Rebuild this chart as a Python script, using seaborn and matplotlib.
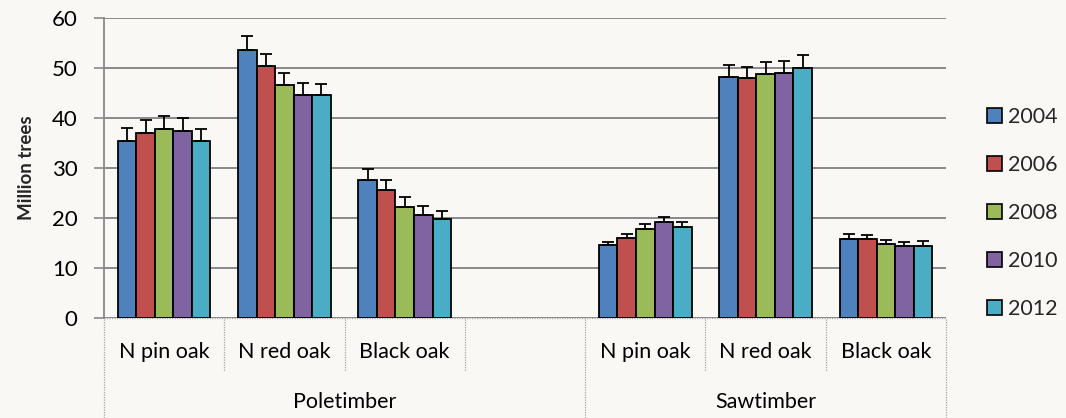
import numpy as np
import pandas as pd
import matplotlib
matplotlib.use("Agg")
import matplotlib.pyplot as plt
import matplotlib.transforms as mtransforms
import seaborn as sns

# categories on the x axis (the empty slot separates the two size classes)
species = ["N pin oak", "N red oak", "Black oak"]
size_classes = ["Poletimber", "Sawtimber"]
years = ["2004", "2006", "2008", "2010", "2012"]

# million trees, one list per year: pole pin, pole red, pole black, saw pin, saw red, saw black
vals_2004 = [35.4, 53.7, 27.7, 14.6, 48.3, 15.9]
vals_2006 = [37.0, 50.4, 25.7, 16.1, 48.0, 15.8]
vals_2008 = [37.8, 46.7, 22.2, 17.9, 48.8, 14.9]
vals_2010 = [37.5, 44.7, 20.6, 19.2, 49.0, 14.5]
vals_2012 = [35.5, 44.6, 19.8, 18.2, 50.0, 14.5]

# upper error (sampling error), same order
err_2004 = [2.7, 2.75, 2.1, 0.7, 2.3, 0.9]
err_2006 = [2.7, 2.5, 2.0, 0.7, 2.3, 0.9]
err_2008 = [2.7, 2.3, 2.0, 0.9, 2.4, 0.8]
err_2010 = [2.5, 2.2, 1.9, 1.0, 2.4, 0.8]
err_2012 = [2.4, 2.2, 1.7, 1.0, 2.6, 0.9]

colors = ["#4F81BD", "#C0504D", "#9BBB59", "#8064A2", "#4BACC6"]
bg = "#F9F8F5"

# build long table
keys = [f"{s}|{sp}" for s in size_classes for sp in species]
order = keys[:3] + ["gap"] + keys[3:]
rows = []
for yr, v, e in zip(years, [vals_2004, vals_2006, vals_2008, vals_2010, vals_2012],
                    [err_2004, err_2006, err_2008, err_2010, err_2012]):
    for k, vv, ee in zip(keys, v, e):
        rows.append({"cat": k, "year": yr, "value": vv, "err": ee})
df = pd.DataFrame(rows)

sns.set_theme(style="white")
plt.rcParams["font.family"] = ["Lato", "DejaVu Sans"]

fig = plt.figure(figsize=(10.66, 4.18), dpi=100, facecolor=bg)
ax = fig.add_axes([104 / 1066, 1 - 318 / 418, 842 / 1066, 300 / 418])
ax.set_facecolor(bg)

sns.barplot(data=df, x="cat", y="value", hue="year", order=order, hue_order=years,
            palette=colors, width=0.77, gap=0, errorbar=None, saturation=1,
            edgecolor="black", linewidth=1.3, ax=ax, zorder=3)

# error bars on top of each bar (plus direction only)
for yr, cont in zip(years, ax.containers):
    sub = df[df["year"] == yr].set_index("cat").reindex(keys)
    xs = [p.get_x() + p.get_width() / 2 for p in cont.patches]
    hs = [p.get_height() for p in cont.patches]
    ax.errorbar(xs, hs, yerr=[np.zeros(len(hs)), sub["err"].values], fmt="none",
                ecolor="black", elinewidth=1.3, capsize=4.5, capthick=1.3, zorder=4)

ax.set_ylim(0, 60)
ax.set_xlim(-0.5, 6.5)
ax.set_yticks(range(0, 61, 10))
ax.yaxis.grid(True, color="#8A8A8A", linewidth=1.4, zorder=0)
ax.xaxis.grid(False)
ax.set_axisbelow(True)
ax.tick_params(axis="y", left=True, right=False, length=7, width=1.2, color="#8A8A8A",
               labelsize=16, pad=12, labelcolor="black")
ax.tick_params(axis="x", bottom=False, labelbottom=False)
ax.set_xlabel("")
ax.set_ylabel("Million trees", fontsize=13.5, fontweight="bold", labelpad=12)

# dotted zero line and category separators (below the axis only)
trans = mtransforms.blended_transform_factory(ax.transData, ax.transAxes)
dot = dict(color="#A6A6A6", linewidth=0.9, linestyle=(0, (1, 1)), clip_on=False, zorder=1)
ax.plot([-0.5, 6.5], [0, 0], transform=trans, **dot)
for xb in np.arange(-0.5, 7, 1.0):
    bottom = -0.34 if xb in (-0.5, 3.5, 6.5) else -0.175
    ax.plot([xb, xb], [-0.003, bottom], transform=trans, **dot)

# category and size-class labels
positions = [0, 1, 2, 4, 5, 6]
for xp, k in zip(positions, keys):
    ax.text(xp, -0.115, k.split("|")[1], transform=trans, ha="center", va="center",
            fontsize=15.5, color="black")
ax.text(1.5, -0.28, size_classes[0], transform=trans, ha="center", va="center",
        fontsize=15.5, color="black")
ax.text(5.0, -0.28, size_classes[1], transform=trans, ha="center", va="center",
        fontsize=15.5, color="black")

sns.move_legend(ax, "center left", bbox_to_anchor=(0.926, 0.49),
                bbox_transform=fig.transFigure, frameon=False, title=None,
                fontsize=15.5, labelspacing=1.3, handlelength=0.7, handleheight=0.7,
                handletextpad=0.25, borderpad=0, borderaxespad=0)
for h in ax.get_legend().get_patches():
    h.set_edgecolor("black")
    h.set_linewidth(1.2)

for side in ["top", "right", "bottom"]:
    ax.spines[side].set_visible(False)
ax.spines["left"].set_color("#8A8A8A")
ax.spines["left"].set_linewidth(1.3)

fig.savefig("out.png", dpi=100, facecolor=bg)
